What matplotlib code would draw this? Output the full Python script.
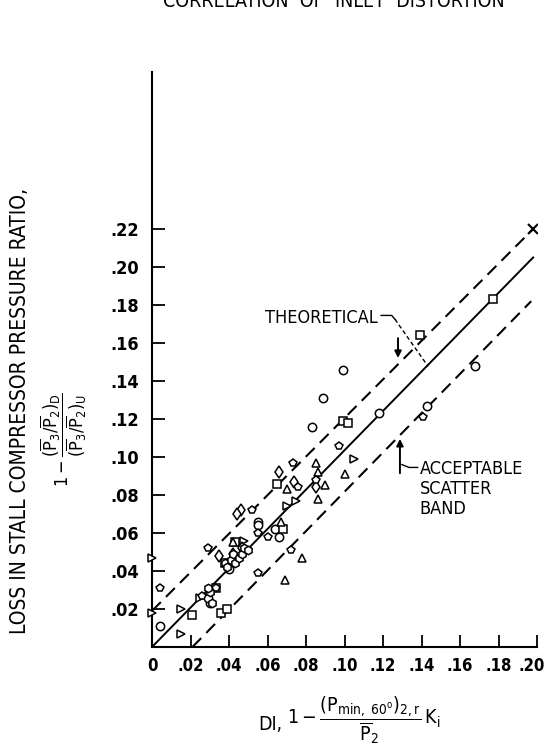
import matplotlib
matplotlib.use("Agg")
import matplotlib.pyplot as plt
from matplotlib.transforms import ScaledTranslation

plt.rcParams['font.family'] = ['DejaVu Sans']
plt.rcParams['font.stretch'] = 'condensed'
plt.rcParams['mathtext.fontset'] = 'custom'
plt.rcParams['mathtext.rm'] = 'DejaVu Sans:stretch=condensed'
plt.rcParams['mathtext.it'] = 'DejaVu Sans:stretch=condensed'
plt.rcParams['mathtext.bf'] = 'DejaVu Sans:stretch=condensed:bold'

# data
circle_x = [0.004, 0.030, 0.029, 0.083, 0.089, 0.099, 0.118, 0.143, 0.168, 0.055, 0.055, 0.040, 0.064, 0.066]
circle_y = [0.011, 0.023, 0.026, 0.116, 0.131, 0.146, 0.123, 0.127, 0.148, 0.066, 0.064, 0.041, 0.062, 0.058]

square_x = [0.021, 0.036, 0.039, 0.043, 0.065, 0.099, 0.102, 0.139, 0.177, 0.033, 0.068, 0.038]
square_y = [0.017, 0.018, 0.020, 0.055, 0.086, 0.119, 0.118, 0.164, 0.183, 0.031, 0.062, 0.044]

tri_up_x = [0.085, 0.090, 0.086, 0.100, 0.070, 0.069, 0.078, 0.042, 0.086, 0.067]
tri_up_y = [0.097, 0.085, 0.078, 0.091, 0.083, 0.035, 0.047, 0.055, 0.092, 0.066]

tri_right_x = [0.0, 0.0, 0.015, 0.015, 0.048, 0.070, 0.105, 0.075, 0.025, 0.045]
tri_right_y = [0.047, 0.018, 0.007, 0.020, 0.056, 0.074, 0.099, 0.077, 0.026, 0.047]

diamond_x = [0.035, 0.046, 0.044, 0.066, 0.042, 0.047, 0.085, 0.074]
diamond_y = [0.048, 0.072, 0.070, 0.092, 0.049, 0.052, 0.084, 0.087]

penta_x = [0.004, 0.029, 0.052, 0.073, 0.097, 0.141, 0.055, 0.026, 0.055, 0.060, 0.072, 0.085, 0.076, 0.033]
penta_y = [0.031, 0.052, 0.072, 0.097, 0.106, 0.121, 0.039, 0.027, 0.060, 0.058, 0.051, 0.088, 0.084, 0.031]

hexa_x = [0.038, 0.039, 0.041, 0.042, 0.043, 0.045, 0.047, 0.048, 0.050, 0.030, 0.029, 0.031]
hexa_y = [0.044, 0.042, 0.046, 0.049, 0.044, 0.047, 0.049, 0.052, 0.051, 0.029, 0.031, 0.023]

# theoretical line and scatter band end points
theory_x = [0.0, 0.198]
theory_y = [0.0, 0.205]
upper_x = [0.0, 0.198]
upper_y = [0.019, 0.220]
lower_x = [0.021, 0.197]
lower_y = [0.0, 0.182]

xticks = [0, 0.02, 0.04, 0.06, 0.08, 0.10, 0.12, 0.14, 0.16, 0.18, 0.20]
xlabels = ['0', '.02', '.04', '.06', '.08', '.10', '.12', '.14', '.16', '.18', '.20']
yticks = [0.02, 0.04, 0.06, 0.08, 0.10, 0.12, 0.14, 0.16, 0.18, 0.20, 0.22]
ylabels = ['.02', '.04', '.06', '.08', '.10', '.12', '.14', '.16', '.18', '.20', '.22']

fig = plt.figure(figsize=(5.48, 7.53), dpi=100)
ax = fig.add_axes([152 / 548, 106 / 753, 385 / 548, 575 / 753])
ax.set_xlim(0, 0.2)
ax.set_ylim(0, 0.3026)

for s in ['top', 'right']:
    ax.spines[s].set_visible(False)
ax.spines['left'].set_linewidth(1.5)
ax.spines['bottom'].set_linewidth(1.5)

ax.set_xticks(xticks)
ax.set_xticklabels(xlabels, fontweight='bold')
ax.set_yticks(yticks)
ax.set_yticklabels(ylabels, fontweight='bold')
ax.tick_params(direction='in', length=9, width=1.3)
ax.tick_params(axis='x', pad=7, labelsize=12)
ax.tick_params(axis='y', pad=9, labelsize=13)

# last x label sits right at the page edge, nudge it in a bit
last = ax.get_xticklabels()[-1]
last.set_transform(last.get_transform() + ScaledTranslation(-4 / 72, 0, fig.dpi_scale_trans))

ax.plot(theory_x, theory_y, color='black', lw=1.4)
ax.plot(upper_x, upper_y, color='black', lw=1.5, dashes=(6, 3.5))
ax.plot(lower_x, lower_y, color='black', lw=1.5, dashes=(6, 3.5))
ax.plot(upper_x[-1:], upper_y[-1:], marker='x', color='black', ms=7, mew=1.5)

mk = dict(mfc='white', mec='black', mew=1.1, ms=6, ls='none', clip_on=False, zorder=3)
ax.plot(circle_x, circle_y, marker='o', **mk)
ax.plot(square_x, square_y, marker='s', **mk)
ax.plot(tri_up_x, tri_up_y, marker='^', **mk)
ax.plot(tri_right_x, tri_right_y, marker='>', **mk)
ax.plot(diamond_x, diamond_y, marker='d', **mk)
ax.plot(penta_x, penta_y, marker='p', **mk)
ax.plot(hexa_x, hexa_y, marker='h', **mk)

# annotations
ax.text(0.0587, 0.173, 'THEORETICAL', fontsize=13, va='center', ha='left')
ax.plot([0.1190, 0.1245, 0.1262], [0.1745, 0.1745, 0.1725], color='black', lw=1)
ax.plot([0.1262, 0.1434], [0.1725, 0.1477], color='black', lw=1, dashes=(3, 2))
ax.annotate('', xy=(0.1278, 0.1506), xytext=(0.1278, 0.1640),
            arrowprops=dict(arrowstyle='-|>', color='black', lw=1.4, mutation_scale=10))
ax.annotate('', xy=(0.1288, 0.1110), xytext=(0.1288, 0.0900),
            arrowprops=dict(arrowstyle='-|>', color='black', lw=1.4, mutation_scale=10))
ax.plot([0.1298, 0.1335, 0.1380], [0.0960, 0.0945, 0.0945], color='black', lw=1)
ax.text(0.1390, 0.0985, 'ACCEPTABLE\nSCATTER\nBAND', fontsize=13, va='top', ha='left',
        linespacing=1.15)

ax.set_ylabel('LOSS IN STALL COMPRESSOR PRESSURE RATIO,', fontsize=15)
ax.yaxis.set_label_coords(-0.317, 0.41)
fig.text(64 / 548, 1 - 440 / 753,
         r'$1 - \dfrac{(\overline{P}_3/\overline{P}_2)_D}{(\overline{P}_3/\overline{P}_2)_U}$',
         rotation=90, fontsize=13, ha='center', va='center')

fig.text(258 / 548, 1 - 724 / 753, 'DI,', fontsize=14, ha='left', va='center')
fig.text(287 / 548, 1 - 720 / 753,
         r'$1 - \dfrac{(P_{min,\ 60^o})_{2,r}}{\overline{P}_2}\,K_i$',
         fontsize=14, ha='left', va='center')

# page title, cut off by the top edge as in the scan
fig.text(163 / 548, 1 - 7 / 753, 'CORRELATION  OF  INLET  DISTORTION', fontsize=14,
         ha='left', va='baseline')

fig.savefig('out.png', dpi=100)
